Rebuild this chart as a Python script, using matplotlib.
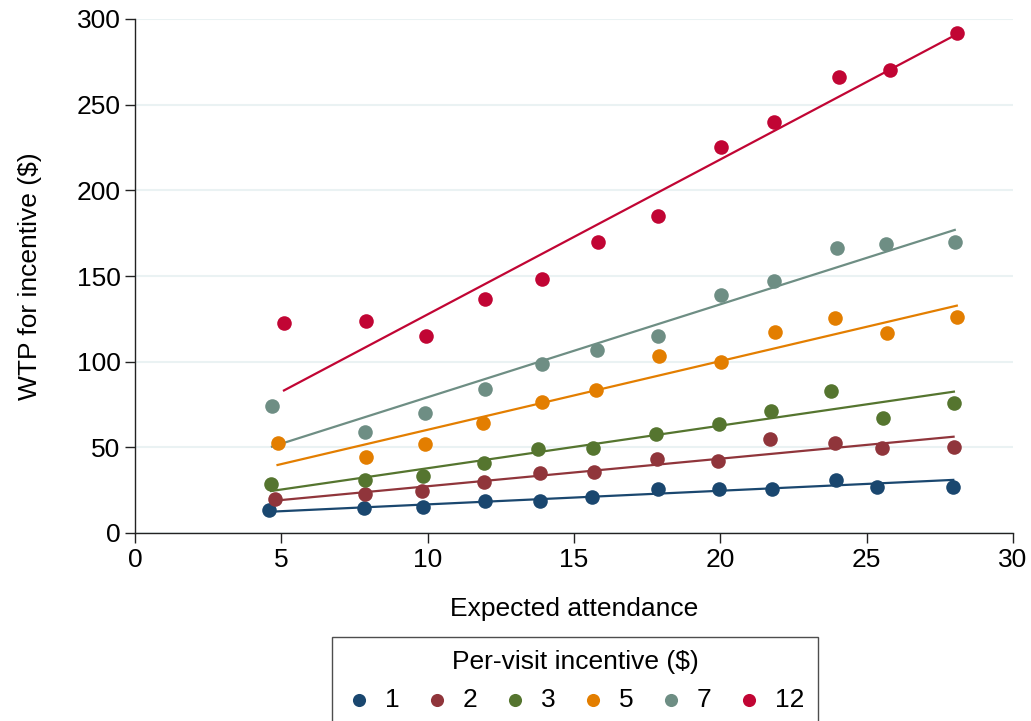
import numpy as np
import matplotlib
matplotlib.use("Agg")
import matplotlib.pyplot as plt

plt.rcParams['font.family'] = ['Liberation Sans', 'DejaVu Sans']

incentives = ["1", "2", "3", "5", "7", "12"]
colors = ["#1a476f", "#90353b", "#55752f", "#e37e00", "#6e8e84", "#c10534"]

x_1 = [4.59, 7.82, 9.84, 11.95, 13.84, 15.62, 17.86, 19.94, 21.75, 23.94, 25.37, 27.96]
y_1 = [13.2, 14.8, 15.2, 18.5, 18.7, 21.0, 25.9, 25.7, 25.5, 30.8, 26.7, 26.8]
x_2 = [4.79, 7.85, 9.82, 11.93, 13.83, 15.69, 17.82, 19.91, 21.71, 23.92, 25.53, 27.97]
y_2 = [20.0, 22.6, 24.7, 29.9, 34.8, 35.4, 43.2, 42.2, 54.7, 52.4, 49.8, 50.0]
x_3 = [4.65, 7.86, 9.83, 11.92, 13.78, 15.66, 17.80, 19.94, 21.72, 23.78, 25.57, 27.98]
y_3 = [28.4, 30.9, 33.5, 40.7, 48.9, 49.8, 57.6, 63.4, 71.4, 82.9, 66.9, 75.7]
x_5 = [4.87, 7.90, 9.90, 11.90, 13.89, 15.75, 17.90, 20.02, 21.87, 23.92, 25.71, 28.08]
y_5 = [52.4, 44.5, 51.8, 64.4, 76.3, 83.3, 103.5, 99.8, 117.5, 125.3, 116.6, 125.9]
x_7 = [4.68, 7.86, 9.91, 11.96, 13.89, 15.80, 17.87, 20.02, 21.83, 23.97, 25.67, 28.01]
y_7 = [74.1, 59.0, 70.2, 84.0, 98.5, 107.0, 115.2, 139.1, 147.1, 166.5, 168.9, 169.7]
x_12 = [5.09, 7.91, 9.96, 11.97, 13.92, 15.82, 17.88, 20.02, 21.85, 24.04, 25.81, 28.08]
y_12 = [122.4, 123.8, 115.2, 136.6, 148.3, 170.0, 185.2, 225.5, 239.7, 266.1, 270.0, 292.0]

# fitted-line values at the first and last attendance of each series
fit_start = [12.4, 18.9, 24.5, 39.7, 50.4, 83.2]
fit_end = [31.0, 56.2, 82.5, 132.7, 176.9, 291.1]

xs = [x_1, x_2, x_3, x_5, x_7, x_12]
ys = [y_1, y_2, y_3, y_5, y_7, y_12]

x_ticks = [0, 5, 10, 15, 20, 25, 30]
y_ticks = [0, 50, 100, 150, 200, 250, 300]

fig = plt.figure(figsize=(10.31, 7.21), dpi=100)
ax = fig.add_axes([135/1031, 1-533/721, (1013-135)/1031, (533-19)/721])

handles = []
for lab, c, x, y, f0, f1 in zip(incentives, colors, xs, ys, fit_start, fit_end):
    h = ax.scatter(x, y, s=110, color=c, zorder=3, linewidths=0, label=lab)
    ax.plot([min(x), max(x)], [f0, f1], color=c, lw=1.6, zorder=2)
    handles.append(h)

ax.set_xlim(0, 30)
ax.set_ylim(0, 300)
ax.set_xticks(x_ticks)
ax.set_yticks(y_ticks)
ax.grid(axis='y', color='#eaf2f3', lw=1.5, zorder=0)
ax.set_axisbelow(True)
for s in ['top', 'right']:
    ax.spines[s].set_visible(False)
for s in ['left', 'bottom']:
    ax.spines[s].set_color('#222222')
    ax.spines[s].set_linewidth(1.0)
ax.tick_params(axis='both', labelsize=19, length=7, width=1.0, color='#222222', direction='out')
ax.set_xlabel("Expected attendance", fontsize=19, labelpad=18)
ax.set_ylabel("WTP for incentive ($)", fontsize=19, labelpad=25)

leg = fig.legend(handles=handles, labels=incentives, loc='upper center',
                 bbox_to_anchor=(575/1031, 1-624/721), ncol=6, title="Per-visit incentive ($)",
                 fontsize=19, title_fontsize=19, frameon=True, fancybox=False,
                 edgecolor='#222222', markerscale=0.9, handletextpad=0.5,
                 columnspacing=0.9, borderpad=0.5, handlelength=1.0)
leg.get_frame().set_linewidth(1.0)

fig.savefig("out.png", dpi=100)
